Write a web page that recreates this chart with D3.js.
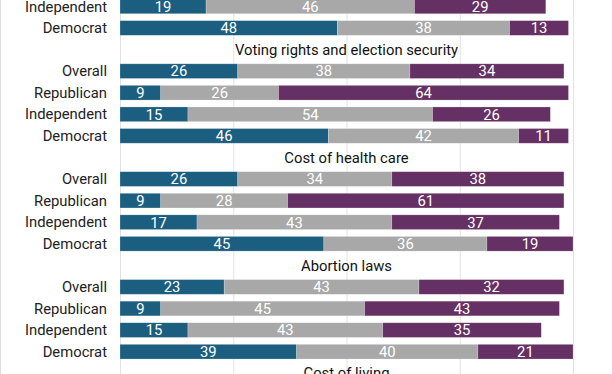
<!DOCTYPE html>
<html>
<head>
<meta charset="utf-8">
<script src="https://cdn.jsdelivr.net/npm/d3@7"></script>
<style>
  html, body { margin: 0; padding: 0; background: #fff; }
  svg { display: block; font-family: Roboto, "Noto Sans", sans-serif; }
</style>
</head>
<body>
<div id="chart"></div>
<script>
// data (chart is cropped: first topic only shows its last two rows)
const topics = ['', 'Voting rights and election security', 'Cost of health care', 'Abortion laws', 'Cost of living'];
const groups = ['Overall', 'Republican', 'Independent', 'Democrat'];
const seriesColors = ['#1b5e80', '#a8a8a8', '#653063'];

const valuesBlue = [
    [null, null, 19, 48],
    [26, 9, 15, 46],
    [26, 9, 17, 45],
    [23, 9, 15, 39],
    []
];
const valuesGray = [
    [null, null, 46, 38],
    [38, 26, 54, 42],
    [34, 28, 43, 36],
    [43, 45, 43, 40],
    []
];
const valuesPurple = [
    [null, null, 29, 13],
    [34, 64, 26, 11],
    [38, 61, 37, 19],
    [32, 43, 35, 21],
    []
];
const xTicks = [0, 25, 50, 75, 100];

const width = 612, height = 374;
const margin = { left: 120, right: 39 };
const fontSize = 14.8;

// build row list: each topic = title row + 4 group rows
const rows = [];
topics.forEach((t, ti) => {
    rows.push({ key: 't' + ti, type: 'title', label: t, ti: ti });
    groups.forEach((g, gi) => {
        const b = valuesBlue[ti][gi];
        if (b === undefined) return;
        rows.push({ key: 'r' + ti + '_' + gi, type: 'bar', label: g, ti: ti,
            vals: [b, valuesGray[ti][gi], valuesPurple[ti][gi]] });
    });
});

const step = 21.58;
const firstVisible = rows.findIndex(r => r.ti === 0 && r.label === 'Independent');
const offsetY = 6.4 - step / 2 - firstVisible * step;

const y = d3.scaleBand()
    .domain(rows.map(r => r.key))
    .range([offsetY, offsetY + rows.length * step])
    .paddingInner(0.32)
    .paddingOuter(0.16);

const x = d3.scaleLinear()
    .domain([0, 100])
    .range([margin.left, width - margin.right]);

const svg = d3.select('#chart').append('svg')
    .attr('width', width)
    .attr('height', height);

// left border
svg.append('line')
    .attr('x1', 0.5).attr('x2', 0.5)
    .attr('y1', 0).attr('y2', height)
    .attr('stroke', '#dcdcdc');

// gridlines
svg.append('g')
    .selectAll('line')
    .data(xTicks)
    .join('line')
    .attr('x1', d => x(d) + 0.5)
    .attr('x2', d => x(d) + 0.5)
    .attr('y1', 0)
    .attr('y2', height)
    .attr('stroke', '#e2e2e2');

const rowCenter = r => y(r.key) + y.bandwidth() / 2;

// topic titles
svg.append('g')
    .selectAll('text')
    .data(rows.filter(r => r.type === 'title' && r.label))
    .join('text')
    .attr('x', x(50))
    .attr('y', rowCenter)
    .attr('dy', '0.35em')
    .attr('text-anchor', 'middle')
    .attr('font-size', fontSize)
    .attr('fill', '#111')
    .text(d => d.label);

const barRows = rows.filter(r => r.type === 'bar' && r.vals[0] != null);

// group labels
svg.append('g')
    .selectAll('text')
    .data(barRows)
    .join('text')
    .attr('x', 107)
    .attr('y', rowCenter)
    .attr('dy', '0.35em')
    .attr('text-anchor', 'end')
    .attr('font-size', fontSize)
    .attr('fill', '#222')
    .text(d => d.label);

// stacked segments
const segs = [];
barRows.forEach(r => {
    let acc = 0;
    r.vals.forEach((v, si) => {
        segs.push({ row: r, x0: acc, x1: acc + v, v: v, si: si });
        acc += v;
    });
});

const segG = svg.append('g');
segG.selectAll('rect')
    .data(segs)
    .join('rect')
    .attr('x', d => x(d.x0))
    .attr('y', d => y(d.row.key))
    .attr('width', d => x(d.x1) - x(d.x0))
    .attr('height', y.bandwidth())
    .attr('fill', d => seriesColors[d.si])
    .attr('stroke', '#fff')
    .attr('stroke-opacity', 0.35)
    .attr('stroke-width', 0.6);

segG.selectAll('text')
    .data(segs)
    .join('text')
    .attr('x', d => (x(d.x0) + x(d.x1)) / 2)
    .attr('y', d => rowCenter(d.row))
    .attr('dy', '0.36em')
    .attr('text-anchor', 'middle')
    .attr('font-size', fontSize)
    .attr('fill', '#fff')
    .text(d => d.v);
</script>
</body>
</html>
